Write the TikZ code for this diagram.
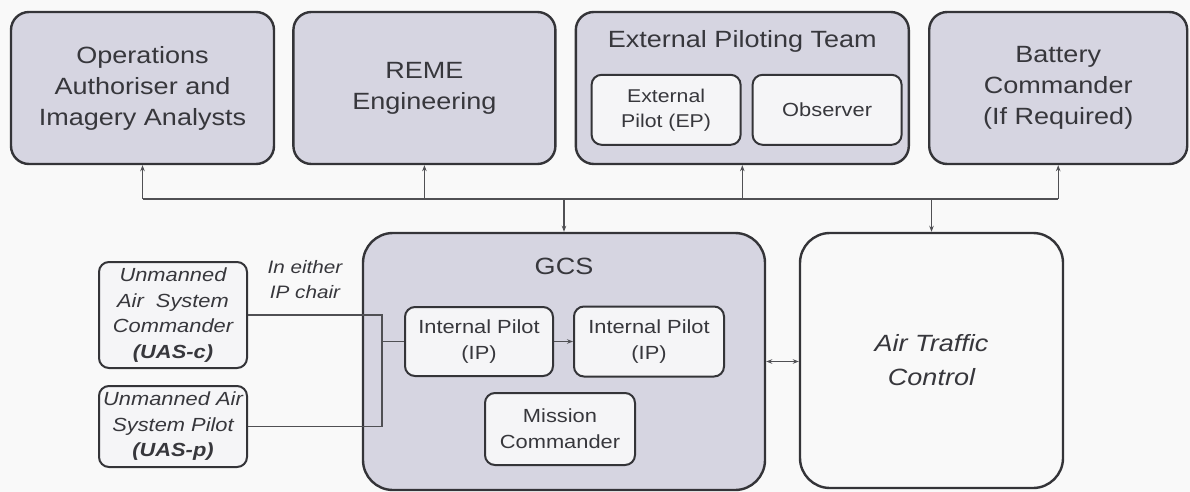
\documentclass[tikz,border=0pt]{standalone}
\usepackage{fontspec}
\setmainfont{Liberation Sans}[FakeStretch=1.15]
\usetikzlibrary{positioning, arrows.meta}

\definecolor{paper}{RGB}{249,249,249}
\definecolor{boxfill}{RGB}{214,213,225}
\definecolor{innerfill}{RGB}{245,245,247}
\definecolor{edge}{RGB}{52,52,56}
\definecolor{ink}{RGB}{55,55,60}
\definecolor{wire}{RGB}{80,80,84}

\begin{document}
\begin{tikzpicture}[
  x=1pt, y=-1pt,
  group/.style={
    rectangle, draw=edge, line width=2.4pt, rounded corners=18pt,
    fill=boxfill, text=ink, align=center, inner sep=0pt,
    font=\fontsize{23.5}{31}\selectfont,
    minimum width=#1, minimum height=152pt,
  },
  group/.default=263pt,
  member/.style={
    rectangle, draw=edge, line width=2pt, rounded corners=10pt,
    fill=innerfill, text=ink, align=center, inner sep=0pt,
    font=\fontsize{19}{26}\selectfont,
    minimum width=#1, minimum height=70pt,
  },
  member/.default=150pt,
  crew/.style={
    member=148pt, font=\fontsize{19}{25.5}\selectfont\itshape,
  },
  title/.style={text=ink, inner sep=0pt, font=\fontsize{23.5}{28}\selectfont},
  note/.style={text=ink, align=center, inner sep=0pt,
    font=\fontsize{18}{25}\selectfont\itshape},
  wire/.style={draw=wire, line width=1.1pt},
  arrow/.style={wire, -{Stealth[length=6pt, width=4.5pt]}},
  twoway/.style={wire, {Stealth[length=6pt, width=4.5pt]}-{Stealth[length=6pt, width=4.5pt]}},
]
\fill[paper] (0,0) rectangle (1190,492);
\useasboundingbox (0,0) rectangle (1190,492);

% top row of supporting cells
\node[group=263pt] (ops) at (142.5,88)
  {Operations\\Authoriser and\\Imagery Analysts};
\node[group=262pt, right=17pt of ops]     (reme)    {REME\\Engineering};
\node[group=333pt, right=18pt of reme]    (ept)     {};
\node[group=258pt, right=18pt of ept]     (battery) {Battery\\Commander\\(If Required)};

\node[title] (eptTitle) at ([yshift=-31pt]ept.north) {External Piloting Team};
\node[member=149pt, font=\fontsize{18.5}{25}\selectfont]
  (ep) at ([xshift=16pt, yshift=-63pt]ept.north west) [anchor=north west] {External\\Pilot (EP)};
\node[member=149pt, right=10pt of ep] (observer) {Observer};

% ground control station and ATC
\node[group=402pt, minimum height=257pt, rounded corners=30pt] (gcs) at (564,361.5) {};
\node[title] (gcsTitle) at ([yshift=-35pt]gcs.north) {GCS};
\node[member=148pt, minimum height=69pt] (ip1) at (479,341.5) {Internal Pilot\\(IP)};
\node[member, right=19pt of ip1]         (ip2) {Internal Pilot\\(IP)};
\node[member, minimum height=72pt]       (mc)  at (560,429) {Mission\\Commander};

\node[group=263pt, minimum height=255pt, rounded corners=30pt, fill=paper,
  font=\fontsize{23.5}{34}\selectfont\itshape] (atc) at (931.5,360.5) {Air Traffic\\Control};

% UAS crew who may take either IP chair
\node[crew, minimum height=106pt] (uasc) at (173,315)
  {Unmanned\\Air~ System\\Commander\\\textbf{(UAS-c)}};
\node[crew, minimum height=81pt]  (uasp) at (173,426.5)
  {Unmanned Air\\System Pilot\\\textbf{(UAS-p)}};
\node[note] (chair) at (305,280) {In either\\IP chair};

\coordinate (join) at ([xshift=-22pt]ip1.west);
\draw[wire] (uasc.east) -| (join) |- (uasp.east);
\draw[wire] (join) -- (ip1.west);
\draw[arrow] (ip1) -- (ip2);
\draw[twoway] (gcs.east) -- (gcs.east -| atc.west);

% common bus between the GCS and the other cells
\coordinate (bus) at (0,199);
\draw[wire] (ops.south |- bus) -- (battery.south |- bus);
\foreach \cell in {ops, reme, ept, battery}
  \draw[arrow] (\cell.south |- bus) -- (\cell.south);
\foreach \cell in {gcs, atc}
  \draw[arrow] (\cell.north |- bus) -- (\cell.north);
\end{tikzpicture}
\end{document}
